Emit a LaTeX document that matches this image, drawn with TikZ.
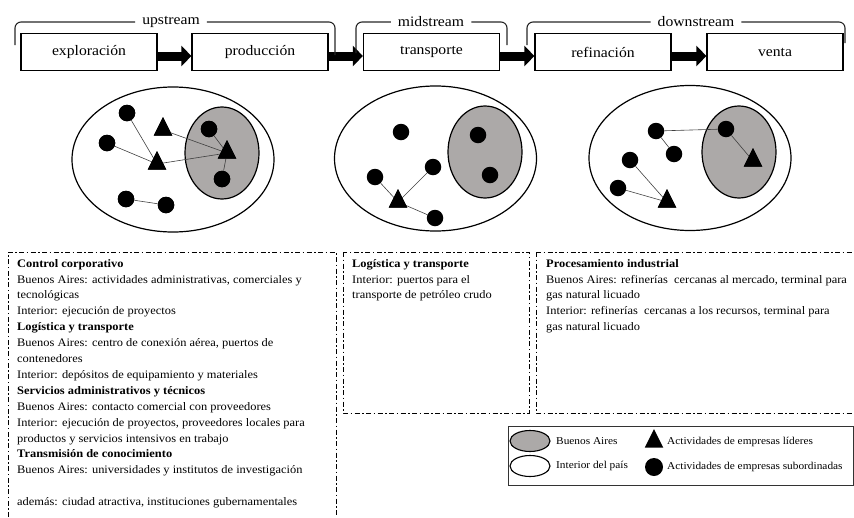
\documentclass[tikz,border=0pt]{standalone}
\usepackage{fontspec}
\setmainfont{Liberation Serif}[FakeStretch=1.08]
\usetikzlibrary{shapes.geometric,arrows.meta}
\definecolor{bagray}{RGB}{172,169,168}
\begin{document}
\begin{tikzpicture}[x=1pt,y=-1pt,
  stage/.style={draw,line width=1.2pt,minimum width=136pt,minimum height=37pt,inner sep=0pt,font=\fontsize{14.5}{16}\selectfont},
  flow/.style={line width=9pt,-{Triangle[length=10pt,width=20pt]}},
  brk/.style={line width=1.1pt,rounded corners=6pt,draw=black!85},
  brklab/.style={font=\fontsize{14.5}{16}\selectfont,inner xsep=7pt,inner ysep=0pt},
  region/.style={ellipse,draw,line width=1.2pt,inner sep=0pt},
  ba/.style={region,fill=bagray,minimum width=74pt,minimum height=92pt},
  interior/.style={region,minimum width=202pt,minimum height=145pt},
  sub/.style={circle,fill,inner sep=0pt,minimum size=16.5pt},
  lead/.style={isosceles triangle,isosceles triangle stretches,shape border rotate=90,fill,inner sep=0pt,minimum width=18.5pt,minimum height=18.5pt},
  link/.style={draw=black!75,line width=0.6pt},
  infobox/.style={line width=1pt,dash pattern=on 5pt off 2.5pt on 1.5pt off 2.5pt},
  infotext/.style={anchor=north west,align=left,inner sep=0pt,font=\fontsize{11.5}{15.9}\selectfont},
  legtext/.style={anchor=west,inner sep=0pt,font=\fontsize{10.5}{12}\selectfont},
]
\useasboundingbox (0,0) rectangle (854,517);

% stages
\node[stage] (s1) at (89,52) {exploración};
\node[stage] (s2) at (260,52) {producción};
\node[stage] (s3) at (431.5,52) {transporte};
\node[stage] (s4) at (603,52) {refinación};
\node[stage] (s5) at (775,52) {venta};
\foreach \a/\b in {s1/s2,s2/s3,s3/s4,s4/s5}
  \draw[flow] ([yshift=-4pt]\a.east) -- ([yshift=-4pt]\b.west);

% brackets
\node[brklab] (up) at (171,22) {upstream};
\coordinate (upl) at (15,45);
\coordinate (upr) at (335,55);
\draw[brk] (upl) |- (up.west);
\draw[brk] (up.east) -| (upr);
\node[brklab] (mid) at (431,22) {midstream};
\coordinate (midl) at (356,53);
\coordinate (midr) at (507,45);
\draw[brk] (midl) |- (mid.west);
\draw[brk] (mid.east) -| (midr);
\node[brklab] (down) at (696,22) {downstream};
\coordinate (downl) at (527,45);
\coordinate (downr) at (845,43);
\draw[brk] (downl) |- (down.west);
\draw[brk] (down.east) -| (downr);

% ellipse 1 (upstream)
\node[interior] (i1) at (173,159.5) {};
\node[ba] (b1) at (222,153) {};
\node[sub] (a1) at (127,113) {};
\node[sub] (a2) at (107,143) {};
\node[sub] (a3) at (209,129) {};
\node[sub] (a4) at (222,179) {};
\node[sub] (a5) at (126,199) {};
\node[sub] (a6) at (166,205) {};
\node[lead] (t1) at (163,130) {};
\node[lead] (t2) at (157,164) {};
\node[lead] (t3) at (227,153) {};
\draw[link] (a1) -- (t2.center);
\draw[link] (a2) -- (t2.center);
\draw[link] (t2.center) -- (t3.center);
\draw[link] (t1.center) -- (t3.center);
\draw[link] (a3) -- (t3.center);
\draw[link] (a4) -- (t3.center);
\draw[link] (a5) -- (a6);
\foreach \n in {a1,a2,a3,a4,a5,a6} \node[sub] at (\n) {};
\foreach \n in {t1,t2,t3} \node[lead] at (\n) {};

% ellipse 2 (midstream)
\node[interior] (i2) at (435.5,158.5) {};
\node[ba] (b2) at (485,152) {};
\node[sub] (m1) at (401,132) {};
\node[sub] (m2) at (478,135) {};
\node[sub] (m3) at (490,175) {};
\node[sub] (m4) at (433,167) {};
\node[sub] (m5) at (375,177) {};
\node[sub] (m6) at (435,218) {};
\node[lead] (mt) at (398,202) {};
\draw[link] (m5) -- (mt.center);
\draw[link] (m4) -- (mt.center);
\draw[link] (mt.center) -- (m6);
\node[lead] at (mt) {};

% ellipse 3 (downstream)
\node[interior] (i3) at (690,158) {};
\node[ba] (b3) at (739,152) {};
\node[sub] (d1) at (656,131) {};
\node[sub] (d2) at (726,129) {};
\node[sub] (d3) at (674,154) {};
\node[sub] (d4) at (630,160) {};
\node[sub] (d5) at (618,188) {};
\node[lead] (dt1) at (753,161) {};
\node[lead] (dt2) at (667,202) {};
\draw[link] (d1) -- (d2);
\draw[link] (d1) -- (d3);
\draw[link] (d2) -- (dt1.center);
\draw[link] (d4) -- (dt2.center);
\draw[link] (d5) -- (dt2.center);
\node[lead] at (dt1) {};
\node[lead] at (dt2) {};

% info boxes
\draw[infobox] (8,517) -- (8,252) -- (336,252) -- (336,517);
\draw[infobox] (343,252) rectangle (529,413);
\draw[infobox] (536,252) -- (852.5,252);
\draw[infobox] (536,252) -- (536,413) -- (852.5,413);

\node[infotext] (txt1) at (17,259) {%
\textbf{Control corporativo}\\
Buenos Aires: actividades administrativas, comerciales y\\
tecnológicas\\
Interior: ejecución de proyectos\\
\textbf{Logística y transporte}\\
Buenos Aires: centro de conexión aérea, puertos de\\
contenedores\\
Interior: depósitos de equipamiento y materiales\\
\textbf{Servicios administrativos y técnicos}\\
Buenos Aires: contacto comercial con proveedores\\
Interior: ejecución de proyectos, proveedores locales para\\
productos y servicios intensivos en trabajo\\
\textbf{Transmisión de conocimiento}\\
Buenos Aires: universidades y institutos de investigación\\
\mbox{}\\
además: ciudad atractiva, instituciones gubernamentales};

\node[infotext] (txt2) at (352,259) {%
\textbf{Logística y transporte}\\
Interior: puertos para el\\
transporte de petróleo crudo};

\node[infotext] (txt3) at (546,259) {%
\textbf{Procesamiento industrial}\\
Buenos Aires: refinerías~ cercanas al mercado, terminal para\\
gas natural licuado\\
Interior: refinerías~ cercanas a los recursos, terminal para\\
gas natural licuado};

% legend
\node[draw=black!80,line width=0.9pt,minimum width=345pt,minimum height=59pt,inner sep=0pt,anchor=north west] (leg) at (508,426) {};
\node[ellipse,draw,line width=1.1pt,fill=bagray,minimum width=40pt,minimum height=21pt,inner sep=0pt] (lba) at (530,441) {};
\node[ellipse,draw,line width=1.1pt,minimum width=40pt,minimum height=21pt,inner sep=0pt] (lint) at (530,466) {};
\node[legtext] (lbat) at (556,441) {Buenos Aires};
\node[legtext] (lintt) at (556,466) {Interior del país};
\node[lead] (ltr) at (654,442) {};
\node[sub,minimum size=18pt] (ldot) at (654,467) {};
\node[legtext] (ltrt) at (667,442) {Actividades de empresas líderes};
\node[legtext] (ldott) at (667,467) {Actividades de empresas subordinadas};
\end{tikzpicture}
\end{document}
